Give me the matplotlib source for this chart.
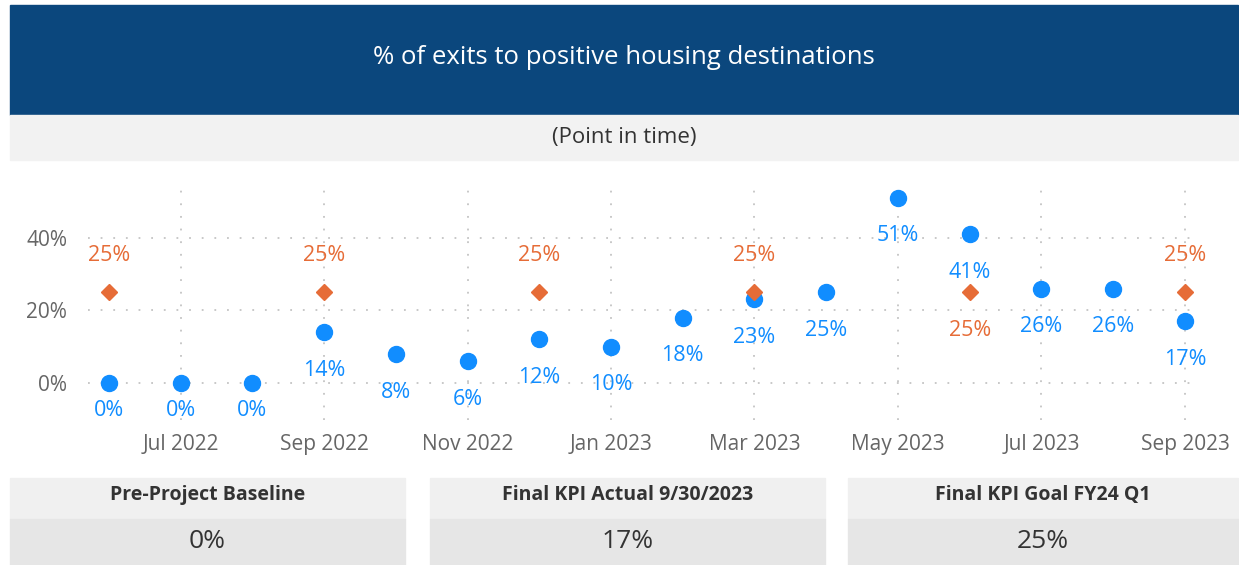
import matplotlib.pyplot as plt
from matplotlib.patches import Rectangle

# data
months = ["Jun 2022", "Jul 2022", "Aug 2022", "Sep 2022", "Oct 2022", "Nov 2022",
          "Dec 2022", "Jan 2023", "Feb 2023", "Mar 2023", "Apr 2023", "May 2023",
          "Jun 2023", "Jul 2023", "Aug 2023", "Sep 2023"]
actual = [0, 0, 0, 14, 8, 6, 12, 10, 18, 23, 25, 51, 41, 26, 26, 17]
goal_months = ["Jun 2022", "Sep 2022", "Dec 2022", "Mar 2023", "Jun 2023", "Sep 2023"]
goal = [25, 25, 25, 25, 25, 25]
y_ticks = [0, 20, 40]
card_titles = ["Pre-Project Baseline", "Final KPI Actual 9/30/2023", "Final KPI Goal FY24 Q1"]
card_values = ["0%", "17%", "25%"]

W, H = 1239, 565
BLUE = "#118DFF"
ORANGE = "#E66C37"
plt.rcParams['font.family'] = ['Open Sans', 'DejaVu Sans']

fig = plt.figure(figsize=(W / 100, H / 100), dpi=100)


def box(x0, y0, x1, y1, color):
    # pixel coords, y measured from top
    fig.patches.append(Rectangle((x0 / W, 1 - y1 / H), (x1 - x0) / W, (y1 - y0) / H,
                                 transform=fig.transFigure, color=color, zorder=0))


box(10, 5, 1238, 115, "#0B477D")
box(10, 115, 1238, 160, "#F2F2F2")
fig.text(624 / W, 1 - 57 / H, "% of exits to positive housing destinations",
         color="white", fontsize=18.5, ha="center", va="center")
fig.text(624 / W, 1 - 137 / H, "(Point in time)", color="#333333", fontsize=16,
         ha="center", va="center")

ax = fig.add_axes([88 / W, 1 - 420 / H, (1195 - 88) / W, (420 - 185) / H])
x = list(range(len(months)))
gx = [months.index(m) for m in goal_months]

ax.plot(x, actual, "o", color=BLUE, markersize=11.5, zorder=3)
ax.plot(gx, goal, "D", color=ORANGE, markersize=8.5, zorder=4)

for xi, v in zip(x, actual):
    dy = -19.5 if v == 0 else -27.5  # labels at 0% sit closer to the dot
    ax.annotate(f"{v}%", (xi, v), xytext=(0, dy), textcoords="offset points",
                ha="center", va="center", color=BLUE, fontsize=15.5)
for xi, v, m in zip(gx, goal, goal_months):
    dy = -27.5 if m == "Jun 2023" else 26.5
    ax.annotate(f"{v}%", (xi, v), xytext=(0, dy), textcoords="offset points",
                ha="center", va="center", color=ORANGE, fontsize=15.5)

ax.set_xlim(-0.29, 15.14)
ax.set_ylim(-10.2, 54.5)
ax.set_yticks(y_ticks)
ax.set_yticklabels([f"{t}%" for t in y_ticks])
ax.set_xticks(x[1::2])
ax.set_xticklabels(months[1::2])
ax.tick_params(length=0, colors="#666666", labelsize=15)
ax.tick_params(axis="y", pad=15)
ax.tick_params(axis="x", pad=10)
ax.grid(True, linestyle=(0, (1, 6)), color="#C4C4C4", linewidth=1.3)
ax.set_axisbelow(True)
for s in ax.spines.values():
    s.set_visible(False)

cards = [(10, 405), (430, 825), (848, 1238)]
for (x0, x1), title, val in zip(cards, card_titles, card_values):
    box(x0, 478, x1, 519, "#F0F0F0")
    box(x0, 519, x1, 565, "#E6E6E6")
    cx = (x0 + x1) / 2 / W
    fig.text(cx, 1 - 495 / H, title, fontsize=14, fontweight="bold", color="#333333",
             ha="center", va="center")
    fig.text(cx, 1 - 541 / H, val, fontsize=19, color="#333333", ha="center", va="center")

fig.savefig("out.png", dpi=100)
